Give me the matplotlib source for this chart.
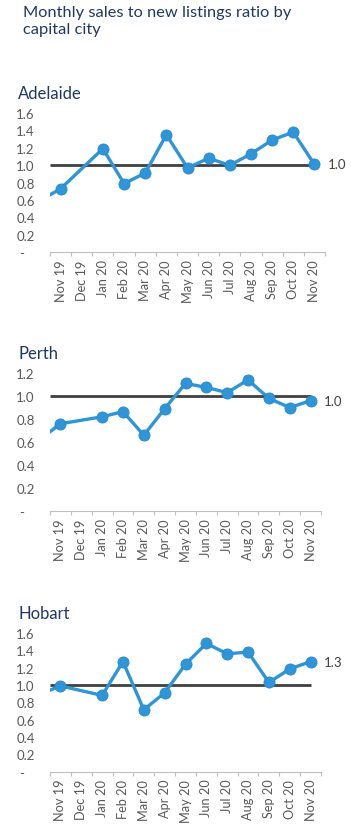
import numpy as np
import matplotlib
matplotlib.use("Agg")
import matplotlib.pyplot as plt
from matplotlib.ticker import FixedLocator, NullFormatter

plt.rcParams['font.family'] = ['Lato', 'DejaVu Sans']

# ---- data ----
months = ["Oct 19", "Nov 19", "Dec 19", "Jan 20", "Feb 20", "Mar 20", "Apr 20",
          "May 20", "Jun 20", "Jul 20", "Aug 20", "Sep 20", "Oct 20", "Nov 20"]
adelaide = [0.59, 0.73, np.nan, 1.19, 0.79, 0.91, 1.35, 0.97, 1.08, 1.00, 1.13, 1.29, 1.38, 1.01]
perth = [0.62, 0.76, np.nan, 0.82, 0.865, 0.66, 0.89, 1.11, 1.075, 1.03, 1.14, 0.98, 0.90, 0.96]
hobart = [0.89, 0.99, np.nan, 0.88, 1.27, 0.715, 0.91, 1.24, 1.48, 1.36, 1.38, 1.03, 1.185, 1.27]
benchmark = 1.0
cities = ["Adelaide", "Perth", "Hobart"]
series = [adelaide, perth, hobart]
ymaxes = [1.6, 1.2, 1.6]
yticks_sets = [[0, 0.2, 0.4, 0.6, 0.8, 1.0, 1.2, 1.4, 1.6],
               [0, 0.2, 0.4, 0.6, 0.8, 1.0, 1.2],
               [0, 0.2, 0.4, 0.6, 0.8, 1.0, 1.2, 1.4, 1.6]]
title = "Monthly sales to new listings ratio by\ncapital city"

# ---- layout (pixels) ----
W, H = 355, 829
fig = plt.figure(figsize=(W / 100, H / 100), dpi=100)

# (left, right, top, bottom) in pixels
boxes = [(50, 325, 114, 253.3), (50, 321, 374, 512.3), (50, 321, 634, 772.7)]
title_y = [99, 359, 619]

navy = "#1F3864"
blue = "#2E95D8"
grey = "#595959"

fig.text(23 / W, 1 - 6 / H, title, ha="left", va="top", fontsize=11.8,
         color=navy, linespacing=1.3)

x = np.arange(len(months))
for i, (city, vals) in enumerate(zip(cities, series)):
    l, r, t, b = boxes[i]
    ax = fig.add_axes([l / W, 1 - b / H, (r - l) / W, (b - t) / H])
    v = np.array(vals, dtype=float)
    m = ~np.isnan(v)
    ax.set_xlim(0.5, len(months) - 0.5)
    ax.set_ylim(0, ymaxes[i])
    # benchmark line
    ax.plot([0.5, x[-1]], [benchmark, benchmark], color="#404040", lw=2.0,
            zorder=2, solid_capstyle="butt")
    ax.plot(x[m], v[m], color=blue, lw=2.4, marker="o", ms=8,
            markerfacecolor=blue, markeredgecolor="#2A8BCC", markeredgewidth=0.6,
            zorder=3, clip_on=True)
    # last value label
    ax.annotate(f"{v[-1]:.1f}", xy=(x[-1], v[-1]), xytext=(9.5, 0),
                textcoords="offset points", ha="left", va="center",
                fontsize=9.5, color="#404040", annotation_clip=False)
    # axes styling
    for s in ["top", "right", "left"]:
        ax.spines[s].set_visible(False)
    ax.spines["bottom"].set_color("#BFBFBF")
    ax.spines["bottom"].set_linewidth(0.8)
    ax.set_xticks(x[1:])
    ax.set_xticklabels(months[1:], rotation=90, fontsize=9.2, color=grey)
    ax.tick_params(axis="x", which="major", length=0, pad=5)
    ax.xaxis.set_minor_locator(FixedLocator(list(x[1:] - 0.5) + [x[-1] + 0.5]))
    ax.xaxis.set_minor_formatter(NullFormatter())
    ax.tick_params(axis="x", which="minor", length=3, color="#BFBFBF", width=0.8)
    yt = yticks_sets[i]
    ax.set_yticks(yt)
    ax.set_yticklabels(["-   " if val == 0 else f"{val:.1f}" for val in yt],
                       fontsize=9.5, color=grey)
    ax.tick_params(axis="y", length=0, pad=11)
    fig.text(18 / W, 1 - title_y[i] / H, city, ha="left", va="baseline",
             fontsize=12, color=navy)

fig.savefig("out.png", dpi=100)
